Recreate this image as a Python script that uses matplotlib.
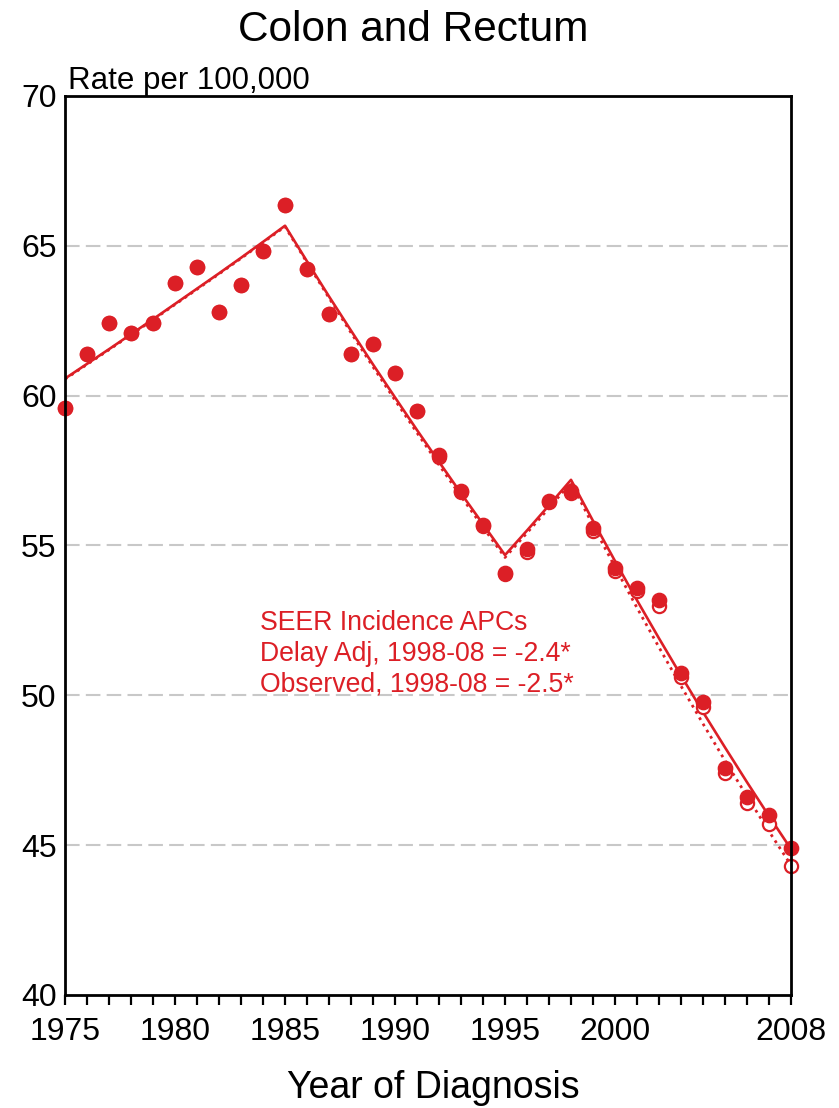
"""Colon and Rectum SEER incidence chart: observed vs delay-adjusted rates."""

import matplotlib

matplotlib.use("Agg")  # No display in the sandbox.
import matplotlib.pyplot as plt  # Object-oriented API below.

# Year axis and the labelled years.
years = list(range(1975, 2009))
label_years = [1975, 1980, 1985, 1990, 1995, 2000, 2008]

# Delay-adjusted rates (filled dots) and their joinpoint fit (solid line).
delay_adj_rate = [
    59.60, 61.38, 62.44, 62.09, 62.44, 63.77, 64.30, 62.80, 63.69, 64.84,
    66.36, 64.22, 62.73, 61.38, 61.73, 60.75, 59.50, 58.02, 56.83, 55.69,
    54.07, 54.87, 56.49, 56.83, 55.57, 54.24, 53.59, 53.18, 50.76, 49.79,
    47.57, 46.62, 46.00, 44.92,
]
delay_adj_fit = [
    60.57, 61.06, 61.55, 62.05, 62.55, 63.06, 63.57, 64.08, 64.60, 65.13,
    65.67, 64.48, 63.31, 62.17, 61.04, 59.94, 58.85, 57.79, 56.74, 55.71,
    54.68, 55.50, 56.34, 57.19, 55.82, 54.48, 53.17, 51.90, 50.66, 49.44,
    48.26, 47.10, 45.97, 44.87,
]

# Observed rates (open circles) and their joinpoint fit (dotted line).
observed_rate = [
    59.60, 61.38, 62.44, 62.09, 62.44, 63.77, 64.30, 62.80, 63.69, 64.84,
    66.36, 64.22, 62.73, 61.38, 61.73, 60.75, 59.50, 57.95, 56.80, 55.66,
    54.05, 54.78, 56.46, 56.74, 55.49, 54.16, 53.49, 52.98, 50.60, 49.62,
    47.40, 46.42, 45.71, 44.31,
]
observed_fit = [
    60.55, 61.04, 61.53, 62.03, 62.53, 63.04, 63.55, 64.06, 64.58, 65.11,
    65.64, 64.44, 63.26, 62.10, 60.96, 59.85, 58.76, 57.69, 56.64, 55.61,
    54.60, 55.42, 56.25, 57.10, 55.67, 54.28, 52.92, 51.60, 50.31, 49.05,
    47.82, 46.63, 45.46, 44.33,
]

y_ticks = [40, 45, 50, 55, 60, 65, 70]
grid_values = [45, 50, 55, 60, 65]
apc_lines = [
    "SEER Incidence APCs",
    "Delay Adj, 1998-08 = -2.4*",
    "Observed, 1998-08 = -2.5*",
]

RED = "#dc1f26"
plt.rcParams["font.family"] = ["Liberation Sans", "DejaVu Sans"]

figure = plt.figure(figsize=(8.39, 11.08), dpi=100)
axis = figure.add_axes([0.0775, 0.102, 0.8653, 0.8114])

# Dashed grey reference lines behind everything.
for value in grid_values:
    axis.axhline(value, color="#c8c8c8", lw=1.5, ls=(0, (7, 3)), zorder=1)

# Fitted trends.
axis.plot(years, observed_fit, color=RED, lw=2.0, ls=(0, (1, 1.6)), zorder=2)
axis.plot(years, delay_adj_fit, color=RED, lw=1.9, zorder=3)

# Open circles first, filled dots drawn over them.
axis.plot(years, observed_rate, "o", ms=9.5, mfc="white", mec=RED, mew=1.6,
          ls="none", zorder=4, clip_on=False)
axis.plot(years, delay_adj_rate, "o", ms=10.3, color=RED, ls="none",
          zorder=5, clip_on=False)

axis.set_xlim(1975, 2008)
axis.set_ylim(40, 70)
axis.set_xticks(years)
axis.set_xticklabels([str(y) if y in label_years else "" for y in years])
axis.set_yticks(y_ticks)
axis.tick_params(axis="x", direction="out", length=7, width=1.6, pad=9,
                 labelsize=23)
axis.tick_params(axis="y", length=0, pad=6, labelsize=23)
for spine in axis.spines.values():
    spine.set_linewidth(2.0)
    spine.set_zorder(6)

# Labels and annotation text.
axis.text(0.004, 1.0, "Rate per 100,000", transform=axis.transAxes,
          ha="left", va="bottom", fontsize=22.5)
for offset, line in enumerate(apc_lines):
    axis.text(1983.85, 52.4 - offset * 1.02, line, color=RED, fontsize=19.2,
              ha="left", va="center")
figure.text(0.493, 0.973, "Colon and Rectum", ha="center", va="center",
            fontsize=30.5)
figure.text(0.517, 0.018, "Year of Diagnosis", ha="center", va="center",
            fontsize=27)

figure.savefig("out.png", dpi=100)
plt.close(figure)
